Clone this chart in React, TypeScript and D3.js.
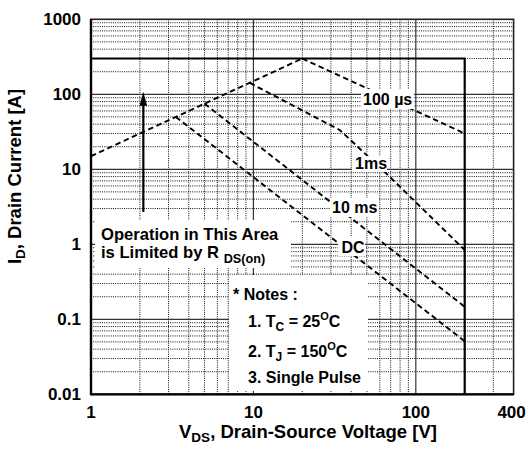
import React from 'react';
import * as d3 from 'd3';

// ---- data ----
const xTickValues = [1, 10, 100, 400];
const xTickLabels = ['1', '10', '100', '400'];
const yTickValues = [0.01, 0.1, 1, 10, 100, 1000];
const yTickLabels = ['0.01', '0.1', '1', '10', '100', '1000'];

const xMajorGrid = [10, 100];
const yMajorGrid = [0.1, 1, 10, 100];
const xMinorGrid = [2, 3, 4, 5, 6, 7, 8, 9, 20, 30, 40, 50, 60, 70, 80, 90, 300];
const yMinorGrid = [
  0.02, 0.03, 0.04, 0.05, 0.06, 0.07, 0.08, 0.09,
  0.2, 0.3, 0.4, 0.5, 0.6, 0.7, 0.8, 0.9,
  2, 3, 4, 5, 6, 7, 8, 9,
  20, 30, 40, 50, 60, 70, 80, 90,
  200, 300, 400, 500, 600, 700, 800, 900,
];

// R_DS(on) limit line [V, A]
const rdsLimit: [number, number][] = [[1, 15], [20, 300]];
// package current / voltage limit [V, A]
const hardLimit: [number, number][] = [[1, 300], [200, 300], [200, 0.01]];
const curve100us: [number, number][] = [[20, 300], [200, 30]];
const curve1ms: [number, number][] = [[9.5, 142], [34, 33.4], [66.2, 8.7], [200, 0.84]];
const curve10ms: [number, number][] = [[5, 75], [200, 0.147]];
const curveDC: [number, number][] = [[3.33, 50], [200, 0.051]];
const arrowV = 2.1;
const arrowFrom = 2.7;
const arrowTo = 108;

const FONT = '"Liberation Sans", Arial, Helvetica, sans-serif';

export default function App() {
  const W = 528, H = 451;
  const left = 91, right = 513.6, top = 19.3, bottom = 394.3;
  const x = d3.scaleLog().domain([1, 400]).range([left, right]);
  const y = d3.scaleLog().domain([0.01, 1000]).range([bottom, top]);

  const line = d3.line<[number, number]>()
    .x(d => x(d[0]))
    .y(d => y(d[1]));

  const dash = { fill: 'none', stroke: '#000', strokeWidth: 1.9, strokeDasharray: '5.5,3.5' } as const;

  const ax = x(arrowV);
  const tipY = y(arrowTo);
  const baseY = y(arrowFrom);

  return (
    <svg width={W} height={H} style={{ position: 'absolute', left: 0, top: 0, background: '#fff' }}
      fontFamily={FONT} fontWeight="bold">
      <rect x={0} y={0} width={W} height={H} fill="#fff" />
      {/* minor grid */}
      <g stroke="#111" strokeWidth={1} strokeDasharray="1,1.2">
        {xMinorGrid.map(v => (
          <line key={'xm' + v} x1={x(v)} x2={x(v)} y1={top} y2={bottom} />
        ))}
        {yMinorGrid.map(v => (
          <line key={'ym' + v} x1={left} x2={right} y1={y(v)} y2={y(v)} />
        ))}
      </g>
      {/* major grid */}
      <g stroke="#333" strokeWidth={1.2}>
        {xMajorGrid.map(v => (
          <line key={'xM' + v} x1={x(v)} x2={x(v)} y1={top} y2={bottom} />
        ))}
        {yMajorGrid.map(v => (
          <line key={'yM' + v} x1={left} x2={right} y1={y(v)} y2={y(v)} />
        ))}
      </g>
      {/* curves */}
      <path d={line(rdsLimit) || ''} {...dash} />
      <path d={line(curve100us) || ''} {...dash} />
      <path d={line(curve1ms) || ''} {...dash} />
      <path d={line(curve10ms) || ''} {...dash} />
      <path d={line(curveDC) || ''} {...dash} />
      {/* hard limit */}
      <path d={line(hardLimit) || ''} fill="none" stroke="#000" strokeWidth={2.2} />

      {/* white label areas */}
      <g fill="#fff">
        <rect x={95} y={220} width={196} height={48} />
        <rect x={229} y={275} width={139} height={116} />
        <rect x={361} y={89} width={53} height={20} />
        <rect x={352} y={156} width={35} height={16} />
        <rect x={330} y={198} width={49} height={19} />
        <rect x={338} y={237} width={27} height={19} />
      </g>

      {/* curve labels */}
      <g fontSize={16} fill="#000">
        <text x={363} y={105}>100 µs</text>
        <text x={355} y={168.5}>1ms</text>
        <text x={332} y={212.7}>10 ms</text>
        <text x={341.5} y={252.5}>DC</text>
      </g>

      {/* operation text */}
      <g fontSize={16.6} fill="#000">
        <text x={101} y={240}>Operation in This Area</text>
        <text x={101} y={258.3}>is Limited by R <tspan fontSize={12.7} dy={5}>DS(on)</tspan></text>
      </g>

      {/* notes */}
      <g fontSize={16} fill="#000">
        <text x={233} y={300}>* Notes :</text>
        <text x={248} y={326.7}>1. T<tspan fontSize={12} dy={4}>C</tspan><tspan dy={-4}> = 25</tspan><tspan fontSize={11} dy={-7}>O</tspan><tspan dy={7}>C</tspan></text>
        <text x={248} y={356.7}>2. T<tspan fontSize={12} dy={4}>J</tspan><tspan dy={-4}> = 150</tspan><tspan fontSize={11} dy={-7}>O</tspan><tspan dy={7}>C</tspan></text>
        <text x={248} y={383.3}>3. Single Pulse</text>
      </g>

      {/* arrow */}
      <line x1={ax} x2={ax} y1={baseY} y2={tipY + 12} stroke="#000" strokeWidth={2.2} />
      <path d={`M${ax},${tipY} L${ax - 3.8},${tipY + 14} L${ax + 3.8},${tipY + 14} Z`} fill="#000" />

      {/* frame */}
      <rect x={left} y={top} width={right - left} height={bottom - top} fill="none" stroke="#222" strokeWidth={1.6} />
      <line x1={left} x2={left} y1={top} y2={bottom + 1} stroke="#000" strokeWidth={2.4} />
      <line x1={left} x2={right} y1={bottom} y2={bottom} stroke="#000" strokeWidth={2.2} />

      {/* tick labels */}
      <g fontSize={17} fill="#000">
        {xTickValues.map((v, i) => (
          <text key={'xt' + v} x={x(v) - (v === 400 ? 2 : 0)} y={418} textAnchor="middle">{xTickLabels[i]}</text>
        ))}
        {yTickValues.map((v, i) => (
          <text key={'yt' + v} x={81} y={y(v) + 6} textAnchor="end">{yTickLabels[i]}</text>
        ))}
      </g>

      {/* axis titles */}
      <text x={308} y={438} fontSize={18.5} textAnchor="middle" fill="#000">
        V<tspan fontSize={13.5} dy={4}>DS</tspan><tspan dy={-4}>, Drain-Source Voltage [V]</tspan>
      </text>
      <text transform="translate(21,176.5) rotate(-90)" fontSize={18.5} textAnchor="middle" fill="#000">
        I<tspan fontSize={13.5} dy={4}>D</tspan><tspan dy={-4}>, Drain Current [A]</tspan>
      </text>
    </svg>
  );
}
